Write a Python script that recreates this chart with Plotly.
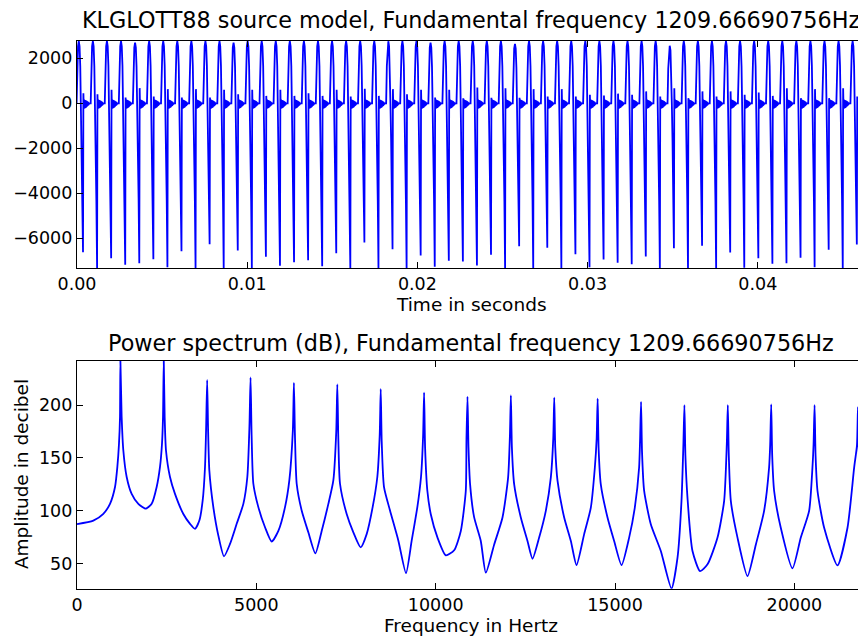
import plotly.graph_objects as go
from plotly.subplots import make_subplots

F0 = 1209.66690756
T0 = 1.0 / F0
first_closure = 0.000353  # time of the first glottal closure (s)

# per-cycle extremes
cycle_peak = [2760, 2760, 2760, 2760, 2700, 2760, 2760, 2760, 2760, 2760,
              2760, 2700, 2760, 2760, 2760, 2760, 2760, 2760, 2760, 2760,
              2760, 2760, 2760, 2760, 2760, 2700, 2760, 2760, 2760, 2760,
              2760, 2640, 2760, 2760, 2760, 2760, 2760, 2760, 2760, 2760,
              2760, 2760, 2560, 2760, 2760, 2760, 2760, 2760, 2760, 2760,
              2760, 2760, 2760, 2760, 2760, 2760, 2760]
cycle_min = [-6622, -7333, -6889, -7185, -7111, -6933, -7289, -6578, -7333, -6267,
             -7333, -6548, -7333, -6830, -7230, -7067, -6978, -7244, -6667, -7333,
             -6193, -7333, -6489, -7333, -6770, -7274, -7007, -7037, -7215, -6741,
             -7333, -6356, -7333, -6430, -7333, -6711, -7289, -6948, -7096, -7156,
             -6815, -7333, -6444, -7333, -6341, -7333, -6637, -7319, -6889, -7141,
             -7111, -6874, -7289, -6519, -7333, -6281, -7000]
cycle_overshoot = [450, 405, 600, 255, 675, 300, 630, 255, 630, 255,
                   600, 405, 600, 330, 600, 330, 450, 330, 600, 300,
                   645, 330, 630, 405, 600, 255, 600, 225, 700, 250,
                   670, 250, 630, 300, 630, 300, 380, 350, 430, 380,
                   530, 300, 670, 230, 530, 300, 530, 380, 480, 330,
                   670, 230, 630, 230, 670, 300, 450]

# one-cycle shape, offsets as fraction of the period relative to closure
open_phase = [-0.455, -0.405, -0.355, -0.299, -0.245, -0.195, -0.149]
open_frac = [0.0, 0.6, 0.92, 1.0, 0.92, 0.6, 0.0]
close_phase = [-0.100, -0.050, 0.0]
close_frac = [0.26, 0.59, 1.0]
ring_phase = [0.027, 0.055, 0.082, 0.110, 0.137, 0.164, 0.192, 0.219, 0.247,
              0.274, 0.301, 0.329, 0.356, 0.384, 0.411, 0.438, 0.47]
ring_val = [-240, 170, -230, 150, -210, 130, -180, 110, -150, 90, -120, 60,
            -80, 30, -30, 0]

# power spectrum polyline
spec_freq = [0, 455, 734, 920, 1060, 1125, 1171, 1199, 1210,
             1245, 1292, 1385, 1524, 1710, 1915, 2082, 2221, 2314, 2370, 2398, 2419,
             2444, 2481, 2593, 2732, 2965, 3151, 3290, 3411, 3504, 3569, 3600, 3629,
             3656, 3690, 3801, 3941, 4099, 4266, 4452, 4638, 4749, 4808, 4839,
             4868, 4917, 5056, 5242, 5428, 5614, 5800, 5920, 6018, 6048,
             6076, 6125, 6264, 6450, 6645, 6822, 7008, 7147, 7228, 7258,
             7286, 7333, 7519, 7705, 7909, 8076, 8243, 8373, 8440, 8468,
             8496, 8560, 8727, 8960, 9173, 9331, 9489, 9591, 9649, 9677,
             9705, 9768, 9864, 10051, 10283, 10515, 10701, 10840, 10859, 10887,
             10915, 10960, 11072, 11258, 11398, 11630, 11863, 12020, 12069, 12097,
             12125, 12188, 12374, 12560, 12700, 12885, 13071, 13211, 13278, 13306,
             13334, 13397, 13583, 13769, 13927, 14140, 14326, 14438, 14488, 14516,
             14544, 14604, 14791, 14976, 15182, 15394, 15552, 15672, 15698, 15726,
             15754, 15812, 15998, 16277, 16575, 16743, 16854, 16907, 16935,
             16963, 17020, 17160, 17373, 17579, 17858, 18043, 18117, 18145,
             18173, 18229, 18415, 18694, 18926, 19157, 19296, 19327, 19355,
             19383, 19436, 19622, 19948, 20180, 20412, 20505, 20536, 20564,
             20592, 20645, 20831, 21203, 21482, 21668, 21746, 21774,
             21802, 21854, 21993]
spec_db = [87.5, 90.8, 97.2, 106.6, 122.5, 141.5, 163.6, 189, 242,
           189, 157, 132, 116, 106.6, 102, 106.6, 122.5, 141.5, 163.6, 189, 242,
           189, 157, 132, 116, 97, 87.7, 83, 90.8, 109.8, 141.5, 178, 223.7,
           175, 138, 103.5, 76.6, 57, 68.7, 87.7, 106.6, 132, 180, 226,
           172, 125.6, 103.5, 84.5, 71, 81, 103.5, 128.8, 176, 221,
           172, 125.6, 100.3, 79.7, 59.8, 81, 106.6, 128.8, 175, 219.6,
           168, 125.6, 97, 79.7, 65.5, 78, 103.5, 132, 172, 215,
           165, 122.5, 100.3, 71.8, 41.1, 71.8, 103.5, 132, 170, 211.7,
           160, 119, 96.8, 74.7, 58, 62.7, 81, 119, 168, 208,
           160, 125, 94, 71.5, 41.5, 68, 93.7, 131.6, 170, 209,
           160, 125.3, 93.7, 71.5, 54.7, 74.7, 100, 131.6, 168, 207,
           160, 128.5, 93.7, 71.5, 48.7, 78, 103, 141, 168, 206,
           158, 125, 93.7, 71.5, 48.7, 74.7, 103, 141, 166, 203,
           155, 119, 87.3, 62, 26.5, 55.7, 109.5, 163, 200,
           152, 112.7, 62, 43, 49.4, 74.7, 109.5, 163, 200,
           152, 109.5, 74.7, 38.3, 68, 100, 141, 163, 200.6,
           152, 119, 84, 45.6, 74.7, 100, 141, 163, 200,
           152, 119, 84, 48.4, 84, 141, 162, 198,
           150, 119, 84]

x_ticks_time = [0.0, 0.01, 0.02, 0.03, 0.04]
y_ticks_wave = [-6000, -4000, -2000, 0, 2000]
x_ticks_freq = [0, 5000, 10000, 15000, 20000]
y_ticks_db = [50, 100, 150, 200]

# assemble waveform from cycle table
t, v = [], []
for k in range(len(cycle_min)):
    tc = first_closure + k * T0
    for ph, fr in zip(open_phase, open_frac):
        t.append(tc + ph * T0)
        v.append(fr * cycle_peak[k])
    for ph, fr in zip(close_phase, close_frac):
        t.append(tc + ph * T0)
        v.append(fr * cycle_min[k])
    t.append(tc + ring_phase[0] * T0)
    v.append(cycle_overshoot[k])
    for ph, val in zip(ring_phase[1:], ring_val):
        t.append(tc + ph * T0)
        v.append(val)

FONT = "DejaVu Sans, Liberation Sans, sans-serif"
BLUE = "#0000ff"

fig = make_subplots(rows=2, cols=1)
fig.add_trace(go.Scatter(x=t, y=v, mode="lines",
                         line=dict(color=BLUE, width=1.8)), row=1, col=1)
fig.add_trace(go.Scatter(x=spec_freq, y=spec_db, mode="lines",
                         line=dict(color=BLUE, width=1.8, shape="spline", smoothing=0.6)),
              row=2, col=1)

# the page body adds an 8px offset, so the figure is laid out 8px up/left
W, H = 858, 629.0
axis_style = dict(showline=True, linecolor="black", linewidth=1.3, mirror="allticks",
                  ticks="inside", ticklen=6, tickwidth=1, tickcolor="black",
                  showgrid=False, zeroline=False, automargin=False,
                  tickfont=dict(family=FONT, size=17.5, color="black"))

fig.update_xaxes(axis_style)
fig.update_yaxes(axis_style)
fig.update_xaxes(range=[0, 0.0463], tickvals=x_ticks_time, tickformat=".2f",
                 domain=[0, 1], row=1, col=1)
fig.update_yaxes(range=[-7340, 2785], tickvals=y_ticks_wave,
                 ticktext=[str(y).replace("-", "\u2212") for y in y_ticks_wave],
                 domain=[1 - 260.3 / H, 1 - 32.7 / H], row=1, col=1)
fig.update_xaxes(range=[0, 21970], tickvals=x_ticks_freq,
                 ticktext=[str(f) for f in x_ticks_freq], domain=[0, 1], row=2, col=1)
fig.update_yaxes(range=[26.4, 241.9], tickvals=y_ticks_db,
                 domain=[1 - 580.7 / H, 1 - 352.7 / H], row=2, col=1)


def label(text, x, y, size=18.5, angle=0):
    fig.add_annotation(text=text, xref="paper", yref="paper", x=x, y=y,
                       xanchor="center", yanchor="middle", showarrow=False,
                       textangle=angle, font=dict(family=FONT, size=size, color="black"))


label("KLGLOTT88 source model, Fundamental frequency 1209.66690756Hz", 0.5, 1 - 12.5 / H, 22.3)
label("Time in seconds", 0.5, 1 - 296 / H)
label("Power spectrum (dB), Fundamental frequency 1209.66690756Hz", 0.5, 1 - 335 / H, 22.3)
label("Frequency in Hertz", 0.5, 1 - 617 / H)
label("Amplitude in decibel", -0.071, 1 - 466 / H, angle=-90)

fig.update_layout(width=W, height=H, showlegend=False,
                  margin=dict(l=69, r=1, t=0, b=0),
                  paper_bgcolor="white", plot_bgcolor="white",
                  font=dict(family=FONT, size=17.5, color="black"))
fig.write_html("out.html")
